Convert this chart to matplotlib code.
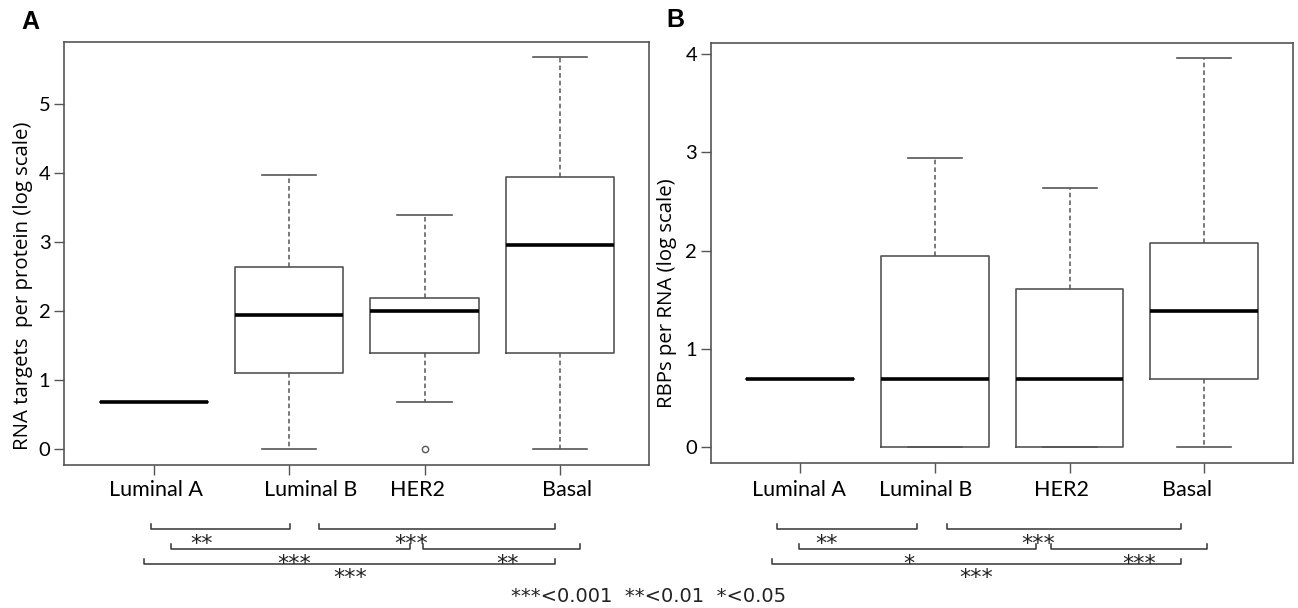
import matplotlib
matplotlib.use("Agg")
import matplotlib.pyplot as plt
from matplotlib.transforms import blended_transform_factory

# Данные: субтипы и пятичисловые сводки (лог-шкала)
groups = ["Luminal A", "Luminal B", "HER2", "Basal"]

rna_whislo = [0.69, 0.0, 0.69, 0.0]
rna_q1 = [0.69, 1.10, 1.39, 1.39]
rna_med = [0.69, 1.95, 2.01, 2.96]
rna_q3 = [0.69, 2.64, 2.20, 3.95]
rna_whishi = [0.69, 3.97, 3.40, 5.68]
rna_fliers = [[], [], [0.0], []]

rbp_whislo = [0.69, 0.0, 0.0, 0.0]
rbp_q1 = [0.69, 0.0, 0.0, 0.69]
rbp_med = [0.69, 0.69, 0.69, 1.39]
rbp_q3 = [0.69, 1.95, 1.61, 2.08]
rbp_whishi = [0.69, 2.94, 2.64, 3.96]
rbp_fliers = [[], [], [], []]

# Попарные сравнения: (от, до, ряд, звёзды, позиция звёзд)
rna_pairs = [
    (0.98, 2.01, 0, "**", 1.35),
    (2.22, 3.96, 0, "***", 2.90),
    (1.13, 2.89, 1, "***", 2.04),
    (2.99, 4.15, 1, "**", 3.61),
    (0.93, 3.96, 2, "***", 2.45),
]
rbp_pairs = [
    (0.83, 1.87, 0, "**", 1.20),
    (2.09, 3.83, 0, "***", 2.77),
    (0.99, 2.75, 1, "*", 1.81),
    (2.86, 4.02, 1, "***", 3.52),
    (0.79, 3.83, 2, "***", 2.31),
]

# Подписи категорий стоят не строго под засечками
rna_label_x = [1.02, 2.16, 2.95, 4.05]
rbp_label_x = [0.99, 1.93, 2.94, 3.87]

W, H = 1298, 608
fig = plt.figure(figsize=(W / 100, H / 100), dpi=100)

gray = "#555555"
num_font = "Lato"
label_font = "Open Sans"
star_font = "DejaVu Sans"


def draw_panel(rect, whislo, q1, med, q3, whishi, fliers, ylabel, ylab_xy,
               yticks, pairs, label_x, letter, letter_xy):
    ax = fig.add_axes(rect)
    stats = []
    for i in range(len(groups)):
        stats.append(dict(med=med[i], q1=q1[i], q3=q3[i], whislo=whislo[i],
                          whishi=whishi[i], fliers=fliers[i]))
    pos = list(range(1, len(groups) + 1))
    ax.bxp(stats, positions=pos, widths=0.8, showfliers=True, capwidths=0.4,
           boxprops=dict(color=gray, lw=1.2),
           whiskerprops=dict(color=gray, lw=1.1, linestyle=(0, (3, 2))),
           capprops=dict(color=gray, lw=1.2),
           medianprops=dict(color="black", lw=2.6),
           flierprops=dict(marker="o", markersize=4.5, markerfacecolor="none",
                           markeredgecolor=gray, markeredgewidth=1))

    lo = min(min(whislo), min([min(f) for f in fliers if f] or [0]))
    hi = max(whishi)
    pad = 0.04 * (hi - lo)
    ax.set_ylim(lo - pad, hi + pad)
    ax.set_xlim(0.5 - 0.16, len(groups) + 0.5 + 0.16)

    ax.set_yticks(yticks)
    ax.set_yticklabels([str(t) for t in yticks], fontsize=14.5, family=num_font)
    ax.set_xticks(pos)
    ax.set_xticklabels([])
    ax.tick_params(length=7, width=1, color=gray, pad=3)
    for s in ax.spines.values():
        s.set_color(gray)
        s.set_linewidth(1.2)

    ax.text(ylab_xy[0], ylab_xy[1], ylabel, transform=ax.transAxes,
            rotation=90, ha="center", va="center", fontsize=14.7, family=label_font)

    tr = blended_transform_factory(ax.transData, fig.transFigure)
    for x, name in zip(label_x, groups):
        ax.text(x, 1 - 490 / H, name, transform=tr, ha="center", va="center",
                fontsize=15.5, family=num_font)

    rows = [529, 548.5, 563.5]
    tick = 5 / H
    for x0, x1, row, stars, sx in pairs:
        y = 1 - rows[row] / H
        ax.plot([x0, x0, x1, x1], [y + tick, y, y, y + tick], transform=tr,
                color="#333333", lw=1.1, clip_on=False)
        ax.text(sx, y - 21 / H, stars, transform=tr, ha="center", va="baseline",
                fontsize=16, family=star_font, color="#222222")

    fig.text(letter_xy[0] / W, 1 - letter_xy[1] / H, letter, ha="center",
             va="center", fontsize=18, fontweight="bold", family="Liberation Sans")
    return ax


draw_panel([64.3 / W, 1 - 465 / H, 585 / W, 423.3 / H],
           rna_whislo, rna_q1, rna_med, rna_q3, rna_whishi, rna_fliers,
           "RNA targets  per protein (log scale)", (-0.0706, 0.423),
           [0, 1, 2, 3, 4, 5], rna_pairs, rna_label_x, "A", (30, 22))

draw_panel([711 / W, 1 - 462.7 / H, 582.3 / W, 420.2 / H],
           rbp_whislo, rbp_q1, rbp_med, rbp_q3, rbp_whishi, rbp_fliers,
           "RBPs per RNA (log scale)", (-0.0756, 0.404),
           [0, 1, 2, 3, 4], rbp_pairs, rbp_label_x, "B", (675, 20))

fig.text(649 / W, 1 - 596.7 / H, "***<0.001  **<0.01  *<0.05", ha="center",
         va="center", fontsize=14, family=star_font, color="#222222")

fig.savefig("out.png", dpi=100)
